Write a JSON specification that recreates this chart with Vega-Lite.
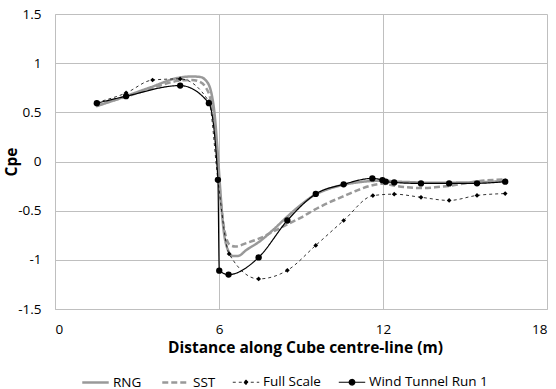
{
  "$schema": "https://vega.github.io/schema/vega-lite/v6.json",
  "width": 492,
  "height": 295,
  "autosize": {"type": "none"},
  "padding": {"left": 55, "top": 14, "right": 9, "bottom": 80},
  "background": "white",
  "config": {
    "view": {"stroke": null},
    "font": "Open Sans",
    "axis": {
      "grid": true,
      "gridColor": "#BFBFBF",
      "gridWidth": 1,
      "domainColor": "#BFBFBF",
      "ticks": false,
      "labelFont": "Open Sans",
      "labelFontSize": 13.5,
      "labelColor": "#000000",
      "titleFont": "Open Sans",
      "titleFontSize": 15.5,
      "titleFontWeight": "bold",
      "titleColor": "#000000"
    }
  },
  "data": {
    "values": [
      {"s": "RNG", "x": 1.5, "y": 0.56},
      {"s": "RNG", "x": 2.5, "y": 0.655},
      {"s": "RNG", "x": 3.5, "y": 0.755},
      {"s": "RNG", "x": 4.5, "y": 0.85},
      {"s": "RNG", "x": 5.0, "y": 0.865},
      {"s": "RNG", "x": 5.3, "y": 0.86},
      {"s": "RNG", "x": 5.5, "y": 0.83},
      {"s": "RNG", "x": 5.7, "y": 0.72},
      {"s": "RNG", "x": 5.85, "y": 0.45},
      {"s": "RNG", "x": 5.95, "y": 0.1},
      {"s": "RNG", "x": 6.05, "y": -0.3},
      {"s": "RNG", "x": 6.15, "y": -0.65},
      {"s": "RNG", "x": 6.3, "y": -0.88},
      {"s": "RNG", "x": 6.5, "y": -0.96},
      {"s": "RNG", "x": 6.7, "y": -0.96},
      {"s": "RNG", "x": 7.0, "y": -0.9},
      {"s": "RNG", "x": 7.5, "y": -0.81},
      {"s": "RNG", "x": 8.0, "y": -0.69},
      {"s": "RNG", "x": 8.5, "y": -0.56},
      {"s": "RNG", "x": 9.0, "y": -0.44},
      {"s": "RNG", "x": 9.5, "y": -0.34},
      {"s": "RNG", "x": 10.0, "y": -0.28},
      {"s": "RNG", "x": 10.5, "y": -0.24},
      {"s": "RNG", "x": 11.0, "y": -0.215},
      {"s": "RNG", "x": 11.5, "y": -0.2},
      {"s": "RNG", "x": 12.0, "y": -0.195},
      {"s": "RNG", "x": 12.5, "y": -0.205},
      {"s": "RNG", "x": 13.0, "y": -0.21},
      {"s": "RNG", "x": 13.5, "y": -0.215},
      {"s": "RNG", "x": 14.5, "y": -0.215},
      {"s": "RNG", "x": 15.5, "y": -0.21},
      {"s": "RNG", "x": 16.5, "y": -0.2},
      {"s": "SST", "x": 1.5, "y": 0.57},
      {"s": "SST", "x": 2.5, "y": 0.65},
      {"s": "SST", "x": 3.5, "y": 0.74},
      {"s": "SST", "x": 4.5, "y": 0.82},
      {"s": "SST", "x": 5.0, "y": 0.83},
      {"s": "SST", "x": 5.3, "y": 0.81},
      {"s": "SST", "x": 5.5, "y": 0.76},
      {"s": "SST", "x": 5.7, "y": 0.62},
      {"s": "SST", "x": 5.85, "y": 0.35},
      {"s": "SST", "x": 5.95, "y": 0.0},
      {"s": "SST", "x": 6.05, "y": -0.35},
      {"s": "SST", "x": 6.2, "y": -0.7},
      {"s": "SST", "x": 6.4, "y": -0.85},
      {"s": "SST", "x": 6.6, "y": -0.865},
      {"s": "SST", "x": 7.0, "y": -0.83},
      {"s": "SST", "x": 7.5, "y": -0.78},
      {"s": "SST", "x": 8.0, "y": -0.71},
      {"s": "SST", "x": 8.5, "y": -0.64},
      {"s": "SST", "x": 9.0, "y": -0.57},
      {"s": "SST", "x": 9.5, "y": -0.49},
      {"s": "SST", "x": 10.0, "y": -0.42},
      {"s": "SST", "x": 10.5, "y": -0.36},
      {"s": "SST", "x": 11.0, "y": -0.3},
      {"s": "SST", "x": 11.5, "y": -0.25},
      {"s": "SST", "x": 12.0, "y": -0.225},
      {"s": "SST", "x": 12.5, "y": -0.25},
      {"s": "SST", "x": 13.0, "y": -0.265},
      {"s": "SST", "x": 13.5, "y": -0.27},
      {"s": "SST", "x": 14.0, "y": -0.26},
      {"s": "SST", "x": 14.5, "y": -0.245},
      {"s": "SST", "x": 15.5, "y": -0.2},
      {"s": "SST", "x": 16.5, "y": -0.18},
      {"s": "Full Scale", "x": 1.53, "y": 0.6},
      {"s": "Full Scale", "x": 2.6, "y": 0.697},
      {"s": "Full Scale", "x": 3.57, "y": 0.829},
      {"s": "Full Scale", "x": 4.58, "y": 0.84},
      {"s": "Full Scale", "x": 5.63, "y": 0.61},
      {"s": "Full Scale", "x": 5.96, "y": -0.19},
      {"s": "Full Scale", "x": 6.37, "y": -0.94},
      {"s": "Full Scale", "x": 7.45, "y": -1.194},
      {"s": "Full Scale", "x": 8.5, "y": -1.107},
      {"s": "Full Scale", "x": 9.54, "y": -0.853},
      {"s": "Full Scale", "x": 10.56, "y": -0.6},
      {"s": "Full Scale", "x": 11.63, "y": -0.347},
      {"s": "Full Scale", "x": 12.41, "y": -0.332},
      {"s": "Full Scale", "x": 13.39, "y": -0.364},
      {"s": "Full Scale", "x": 14.42, "y": -0.396},
      {"s": "Full Scale", "x": 15.44, "y": -0.345},
      {"s": "Full Scale", "x": 16.47, "y": -0.326},
      {"s": "Wind Tunnel Run 1", "x": 1.53, "y": 0.593},
      {"s": "Wind Tunnel Run 1", "x": 2.6, "y": 0.664},
      {"s": "Wind Tunnel Run 1", "x": 4.58, "y": 0.772},
      {"s": "Wind Tunnel Run 1", "x": 5.63, "y": 0.593},
      {"s": "Wind Tunnel Run 1", "x": 5.96, "y": -0.186},
      {"s": "Wind Tunnel Run 1", "x": 6.01, "y": -1.11},
      {"s": "Wind Tunnel Run 1", "x": 6.35, "y": -1.15},
      {"s": "Wind Tunnel Run 1", "x": 7.45, "y": -0.975},
      {"s": "Wind Tunnel Run 1", "x": 8.5, "y": -0.6},
      {"s": "Wind Tunnel Run 1", "x": 9.54, "y": -0.33},
      {"s": "Wind Tunnel Run 1", "x": 10.56, "y": -0.232},
      {"s": "Wind Tunnel Run 1", "x": 11.61, "y": -0.172},
      {"s": "Wind Tunnel Run 1", "x": 11.98, "y": -0.19},
      {"s": "Wind Tunnel Run 1", "x": 12.1, "y": -0.205},
      {"s": "Wind Tunnel Run 1", "x": 12.41, "y": -0.213},
      {"s": "Wind Tunnel Run 1", "x": 13.39, "y": -0.223},
      {"s": "Wind Tunnel Run 1", "x": 14.42, "y": -0.223},
      {"s": "Wind Tunnel Run 1", "x": 15.44, "y": -0.222},
      {"s": "Wind Tunnel Run 1", "x": 16.47, "y": -0.205}
    ]
  },
  "layer": [
    {
      "mark": {"type": "line", "interpolate": "monotone"},
      "encoding": {
        "x": {
          "field": "x", "type": "quantitative",
          "scale": {"domain": [0, 18], "nice": false, "zero": false},
          "axis": {"values": [0, 6, 12, 18], "title": "Distance along Cube centre-line (m)", "labelPadding": 13, "titlePadding": 5, "titleX": 250}
        },
        "y": {
          "field": "y", "type": "quantitative",
          "scale": {"domain": [-1.5, 1.5], "nice": false, "zero": false},
          "axis": {"values": [-1.5, -1, -0.5, 0, 0.5, 1, 1.5], "labelExpr": "'' + datum.value", "title": "Cpe", "labelPadding": 14, "titleX": -36}
        },
        "color": {
          "field": "s", "type": "nominal",
          "scale": {"domain": ["RNG", "SST", "Full Scale", "Wind Tunnel Run 1"], "range": ["#999999", "#999999", "#000000", "#000000"]},
          "legend": {
            "orient": "none", "legendX": 26, "legendY": 354, "direction": "horizontal", "title": null,
            "symbolSize": 700, "symbolType": "stroke", "labelFont": "Open Sans", "labelFontSize": 13.5, "labelColor": "#000000",
            "labelOffset": 3, "columnPadding": 15, "labelLimit": 300,
            "encode": {
              "symbols": {
                "update": {
                  "shape": {"signal": "datum.value === 'Wind Tunnel Run 1' ? 'M-1,0H1M-0.21,0A0.21,0.21 0 1,0 0.21,0A0.21,0.21 0 1,0 -0.21,0Z' : (datum.value === 'Full Scale' ? 'M-1,0H1M0,-0.18L0.18,0L0,0.18L-0.18,0Z' : 'M-1,0H1')"},
                  "fill": {"signal": "(datum.value === 'RNG' || datum.value === 'SST') ? 'transparent' : '#000000'"},
                  "stroke": {"scale": "color", "field": "value"},
                  "strokeDash": {"scale": "strokeDash", "field": "value"},
                  "strokeWidth": {"scale": "strokeWidth", "field": "value"},
                  "opacity": {"value": 1}
                }
              }
            }
          }
        },
        "strokeDash": {
          "field": "s", "type": "nominal",
          "scale": {"type": "ordinal", "domain": ["RNG", "SST", "Full Scale", "Wind Tunnel Run 1"], "range": [[1, 0], [6, 3], [3, 3], [1, 0]]},
          "legend": null
        },
        "strokeWidth": {
          "field": "s", "type": "nominal",
          "scale": {"type": "ordinal", "domain": ["RNG", "SST", "Full Scale", "Wind Tunnel Run 1"], "range": [2.5, 2.5, 0.8, 1.2]},
          "legend": null
        }
      }
    },
    {
      "transform": [{"filter": "datum.s === 'Full Scale'"}],
      "mark": {"type": "point", "shape": "diamond", "filled": true, "size": 22, "color": "#000000", "opacity": 1},
      "encoding": {
        "x": {"field": "x", "type": "quantitative"},
        "y": {"field": "y", "type": "quantitative"}
      }
    },
    {
      "transform": [{"filter": "datum.s === 'Wind Tunnel Run 1'"}],
      "mark": {"type": "point", "shape": "circle", "filled": true, "size": 40, "color": "#000000", "opacity": 1},
      "encoding": {
        "x": {"field": "x", "type": "quantitative"},
        "y": {"field": "y", "type": "quantitative"}
      }
    }
  ]
}
